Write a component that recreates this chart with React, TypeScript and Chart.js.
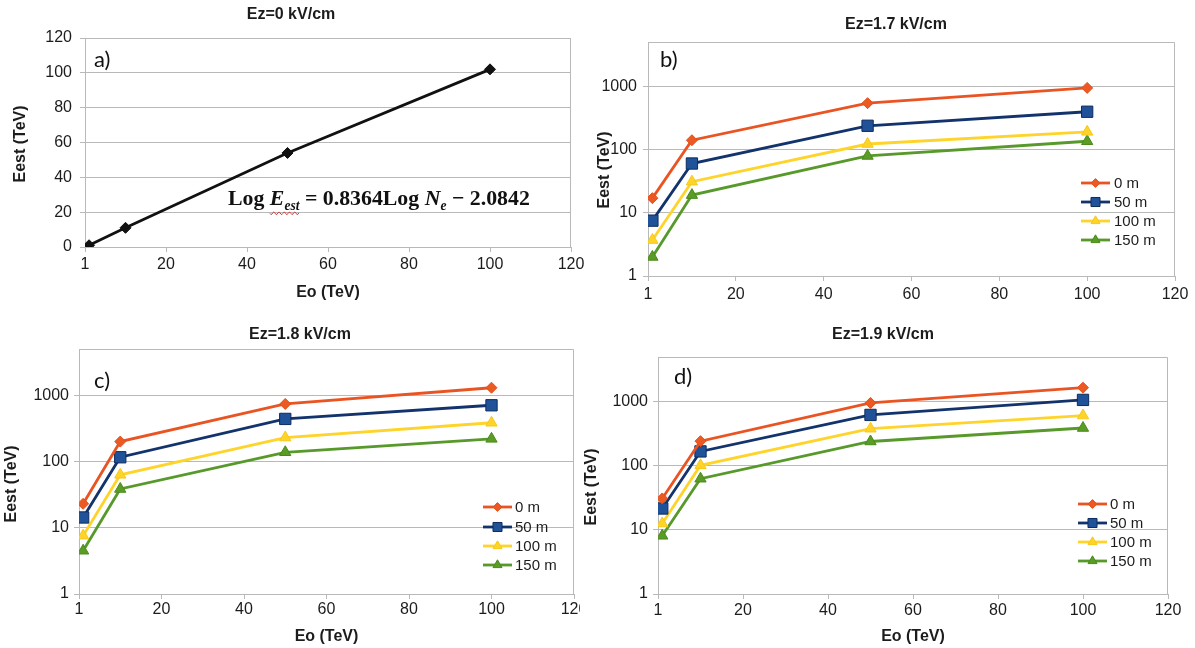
import React, { useEffect, useRef } from "react";
import { Chart, registerables } from "chart.js";

Chart.register(...registerables);

// ---------- data ----------
const EO_VALUES = [1, 10, 50, 100];
const X_TICKS = [0, 20, 40, 60, 80, 100, 120];
const X_TICK_LABELS = ["1", "20", "40", "60", "80", "100", "120"];
const Y_LIN_TICKS = [0, 20, 40, 60, 80, 100, 120];
const Y_LOG_TICKS = [1, 10, 100, 1000];
const SERIES_NAMES = ["0 m", "50 m", "100 m", "150 m"];

const A_EST = [1, 11, 54, 102];

const B_0M = [17, 140, 540, 940];
const B_50M = [7.5, 60, 237, 395];
const B_100M = [3.7, 31, 122, 190];
const B_150M = [2.0, 19, 79, 135];

const C_0M = [23, 200, 740, 1300];
const C_50M = [14.3, 116, 440, 707];
const C_100M = [7.6, 63, 230, 385];
const C_150M = [4.5, 38.5, 138, 220];

const D_0M = [31, 243, 960, 1660];
const D_50M = [21.6, 168, 624, 1070];
const D_100M = [12.6, 102, 380, 610];
const D_150M = [8.1, 63, 240, 390];

// ---------- styles ----------
const GRID = "#b9b9b9";
const TEXT = "#1c1c1c";
const SANS = '"Liberation Sans", Arial, sans-serif';
const SERIES_STYLES = [
  { color: "#ea5422", fill: "#ec5a24", stroke: "#e24f1a", point: "rectRot", radius: 5.5 },
  { color: "#12336b", fill: "#1f5299", stroke: "#0e2c5e", point: "rect", radius: 8 },
  { color: "#ffd42a", fill: "#ffd42a", stroke: "#f5c918", point: "triangle", radius: 6.5 },
  { color: "#57992a", fill: "#5a9c24", stroke: "#4a8a1c", point: "triangle", radius: 6.5 },
];

type PanelCfg = {
  key: string;
  cx: number; cy: number; cw: number; ch: number; clipW?: number;
  L: number; T: number; R: number; B: number;
  log: boolean;
  series: number[][];
  title: string; titleX: number; titleY: number;
  label: string; labelX: number; labelY: number;
  yTitleX: number; yTitleY: number; yLabelRight: number;
  xTickY: number; xTitleY: number | null;
  legend: { x1: number; x2: number; tx: number; ys: number[] } | null;
  equation: boolean;
};

const PANELS: PanelCfg[] = [
  {
    key: "a", cx: 0, cy: 0, cw: 600, ch: 310,
    L: 85, T: 38, R: 571, B: 247, log: false, series: [A_EST],
    title: "Ez=0 kV/cm", titleX: 291, titleY: 15,
    label: "a)", labelX: 94, labelY: 60,
    yTitleX: 21, yTitleY: 144, yLabelRight: 72, xTickY: 265, xTitleY: 293,
    legend: null, equation: true,
  },
  {
    key: "b", cx: 590, cy: 0, cw: 605, ch: 310,
    L: 648, T: 42, R: 1175, B: 276, log: true, series: [B_0M, B_50M, B_100M, B_150M],
    title: "Ez=1.7 kV/cm", titleX: 896, titleY: 25,
    label: "b)", labelX: 660, labelY: 60,
    yTitleX: 605, yTitleY: 170, yLabelRight: 637, xTickY: 295, xTitleY: null,
    legend: { x1: 1081, x2: 1110, tx: 1114, ys: [183, 202, 221, 240] }, equation: false,
  },
  {
    key: "c", cx: 0, cy: 315, cw: 600, ch: 333, clipW: 580,
    L: 79, T: 349, R: 574, B: 594, log: true, series: [C_0M, C_50M, C_100M, C_150M],
    title: "Ez=1.8 kV/cm", titleX: 300, titleY: 335,
    label: "c)", labelX: 94, labelY: 381,
    yTitleX: 12, yTitleY: 484, yLabelRight: 69, xTickY: 610, xTitleY: 637,
    legend: { x1: 483, x2: 512, tx: 515, ys: [507, 527, 546, 565] }, equation: false,
  },
  {
    key: "d", cx: 583, cy: 315, cw: 612, ch: 333,
    L: 658, T: 357, R: 1168, B: 594, log: true, series: [D_0M, D_50M, D_100M, D_150M],
    title: "Ez=1.9 kV/cm", titleX: 883, titleY: 335,
    label: "d)", labelX: 674, labelY: 377,
    yTitleX: 592, yTitleY: 487, yLabelRight: 648, xTickY: 611, xTitleY: 637,
    legend: { x1: 1078, x2: 1107, tx: 1110, ys: [504, 523, 542, 561] }, equation: false,
  },
];

function drawMarker(ctx: CanvasRenderingContext2D, style: string, x: number, y: number, r: number, fill: string, stroke: string) {
  ctx.beginPath();
  if (style === "rectRot") {
    ctx.moveTo(x, y - r); ctx.lineTo(x + r, y); ctx.lineTo(x, y + r); ctx.lineTo(x - r, y);
    ctx.closePath();
  } else if (style === "rect") {
    const s = r * Math.SQRT1_2;
    ctx.rect(x - s, y - s, 2 * s, 2 * s);
  } else {
    let rad = 0;
    ctx.moveTo(x + Math.sin(rad) * r, y - Math.cos(rad) * r);
    rad += (2 * Math.PI) / 3;
    ctx.lineTo(x + Math.sin(rad) * r, y - Math.cos(rad) * r);
    rad += (2 * Math.PI) / 3;
    ctx.lineTo(x + Math.sin(rad) * r, y - Math.cos(rad) * r);
    ctx.closePath();
  }
  ctx.fillStyle = fill; ctx.fill();
  ctx.strokeStyle = stroke; ctx.lineWidth = 1; ctx.stroke();
}

function drawEquation(ctx: CanvasRenderingContext2D, x: number, baseline: number, targetW: number) {
  const parts = [
    { t: "Log ", it: false, sub: false },
    { t: "E", it: true, sub: false },
    { t: "est", it: true, sub: true },
    { t: " = 0.8364Log ", it: false, sub: false },
    { t: "N", it: true, sub: false },
    { t: "e", it: true, sub: true },
    { t: " \u2212 2.0842", it: false, sub: false },
  ];
  const font = (size: number, it: boolean, sub: boolean) =>
    `${it ? "italic " : ""}bold ${sub ? size * 0.62 : size}px "Liberation Serif", "Times New Roman", serif`;
  let w = 0;
  for (const p of parts) { ctx.font = font(20, p.it, p.sub); w += ctx.measureText(p.t).width; }
  const size = (20 * targetW) / w;
  let cx = x;
  ctx.fillStyle = "#111";
  ctx.textBaseline = "alphabetic";
  ctx.textAlign = "left";
  let eStart = 0, estEnd = 0;
  for (const p of parts) {
    ctx.font = font(size, p.it, p.sub);
    if (p.t === "E") eStart = cx;
    ctx.fillText(p.t, cx, baseline + (p.sub ? size * 0.22 : 0));
    cx += ctx.measureText(p.t).width;
    if (p.t === "est") estEnd = cx;
  }
  // red wavy spell-check underline
  ctx.beginPath();
  ctx.strokeStyle = "#d43a3a";
  ctx.lineWidth = 1;
  const wy = baseline + size * 0.38;
  for (let px = eStart; px <= estEnd; px += 1) {
    const yy = wy + Math.sin((px - eStart) * 1.2) * 1.3;
    if (px === eStart) ctx.moveTo(px, yy); else ctx.lineTo(px, yy);
  }
  ctx.stroke();
}

function buildConfig(p: PanelCfg): any {
  const datasets = p.series.map((vals, i) => {
    const st = p.log ? SERIES_STYLES[i] : { color: "#111", fill: "#111", stroke: "#111", point: "rectRot", radius: 5.5 };
    return {
      label: p.log ? SERIES_NAMES[i] : "Eest",
      data: EO_VALUES.map((x, k) => ({ x, y: vals[k] })),
      borderColor: st.color,
      backgroundColor: st.fill,
      pointBackgroundColor: st.fill,
      pointBorderColor: st.stroke,
      pointBorderWidth: 1,
      pointStyle: st.point,
      pointRadius: st.radius,
      borderWidth: 2.8,
      tension: 0,
    };
  });

  const ox = p.cx, oy = p.cy;
  const yWidth = p.L - p.cx;
  const xHeight = p.cy + p.ch - p.B;

  const decor = {
    id: "decor_" + p.key,
    beforeDatasetsDraw(chart: any) {
      const { ctx, chartArea: ca } = chart;
      ctx.save();
      ctx.strokeStyle = GRID;
      ctx.lineWidth = 1;
      ctx.beginPath();
      const t = Math.round(ca.top) + 0.5;
      const r = Math.round(ca.right) - 0.5;
      ctx.moveTo(ca.left, t); ctx.lineTo(r, t); ctx.lineTo(r, ca.bottom);
      ctx.stroke();
      ctx.restore();
    },
    afterDraw(chart: any) {
      const ctx: CanvasRenderingContext2D = chart.ctx;
      ctx.save();
      // chart title
      ctx.font = `bold 16px ${SANS}`;
      ctx.fillStyle = TEXT;
      ctx.textAlign = "center";
      ctx.textBaseline = "middle";
      ctx.fillText(p.title, p.titleX - ox, p.titleY - oy);
      // y axis title
      ctx.save();
      ctx.translate(p.yTitleX - ox, p.yTitleY - oy);
      ctx.rotate(-Math.PI / 2);
      ctx.font = `bold 16px ${SANS}`;
      ctx.fillText("Eest (TeV)", 0, 0);
      ctx.restore();
      // panel label
      ctx.font = `22px Lato, "Open Sans", sans-serif`;
      ctx.textAlign = "left";
      ctx.textBaseline = "middle";
      ctx.fillStyle = "#111";
      ctx.fillText(p.label, p.labelX - ox, p.labelY - oy);
      // equation
      if (p.equation) drawEquation(ctx, 228 - ox, 205 - oy, 302);
      // legend
      if (p.legend) {
        const lg = p.legend;
        p.series.forEach((_, i) => {
          const st = SERIES_STYLES[i];
          const y = lg.ys[i] - oy;
          ctx.beginPath();
          ctx.strokeStyle = st.color;
          ctx.lineWidth = 2.8;
          ctx.moveTo(lg.x1 - ox, y);
          ctx.lineTo(lg.x2 - ox, y);
          ctx.stroke();
          drawMarker(ctx, st.point, (lg.x1 + lg.x2) / 2 - ox, y, st.radius * 0.8, st.fill, st.stroke);
          ctx.font = `15px ${SANS}`;
          ctx.fillStyle = TEXT;
          ctx.textAlign = "left";
          ctx.textBaseline = "middle";
          ctx.fillText(SERIES_NAMES[i], lg.tx - ox, y + 1);
        });
      }
      ctx.restore();
    },
  };

  const yScale: any = p.log
    ? {
        type: "logarithmic",
        min: 1,
        max: 5000,
        afterBuildTicks: (s: any) => { s.ticks = Y_LOG_TICKS.map((v) => ({ value: v })); },
      }
    : {
        type: "linear",
        min: 0,
        max: 120,
        afterBuildTicks: (s: any) => { s.ticks = Y_LIN_TICKS.map((v) => ({ value: v })); },
      };

  Object.assign(yScale, {
    position: "left",
    afterFit: (s: any) => { s.width = yWidth; },
    grid: { color: GRID, lineWidth: 1, drawTicks: true, tickLength: 5, tickColor: GRID },
    border: { display: true, color: GRID, width: 1 },
    ticks: {
      color: TEXT,
      font: { family: SANS, size: 16 },
      padding: p.L - 5 - p.yLabelRight,
      callback: (v: any) => String(v),
      autoSkip: false,
    },
    title: { display: false },
  });

  const xScale: any = {
    type: "linear",
    position: "bottom",
    min: 0,
    max: 120,
    afterBuildTicks: (s: any) => { s.ticks = X_TICKS.map((v) => ({ value: v })); },
    afterFit: (s: any) => { s.height = xHeight; },
    grid: { drawOnChartArea: false, drawTicks: true, tickLength: 5, color: GRID, tickColor: GRID },
    border: { display: true, color: GRID, width: 1 },
    ticks: {
      color: TEXT,
      font: { family: SANS, size: 16 },
      padding: Math.max(0, p.xTickY - 9.6 - p.B - 5),
      maxRotation: 0,
      minRotation: 0,
      autoSkip: false,
      callback: (v: any) => {
        const i = X_TICKS.indexOf(Number(v));
        return i >= 0 ? X_TICK_LABELS[i] : String(v);
      },
    },
    title: {
      display: p.xTitleY !== null,
      text: "Eo (TeV)",
      color: TEXT,
      font: { family: SANS, size: 16, weight: "bold", lineHeight: 1.2 },
      padding: { top: 0, bottom: p.xTitleY !== null ? Math.max(0, p.cy + p.ch - p.xTitleY - 9.6) : 0 },
    },
  };

  return {
    type: "line",
    data: { datasets },
    options: {
      responsive: false,
      maintainAspectRatio: false,
      animation: false,
      devicePixelRatio: 1,
      layout: { padding: { left: 0, top: p.T - p.cy, right: p.cx + p.cw - p.R, bottom: 0 } },
      plugins: { legend: { display: false }, title: { display: false }, tooltip: { enabled: false } },
      scales: { x: xScale, y: yScale },
    },
    plugins: [decor],
  };
}

function Panel({ p }: { p: PanelCfg }) {
  const ref = useRef<HTMLCanvasElement | null>(null);
  useEffect(() => {
    if (!ref.current) return;
    const chart = new Chart(ref.current, buildConfig(p));
    return () => chart.destroy();
  }, [p]);
  return (
    <div
      style={{
        position: "absolute",
        left: p.cx,
        top: p.cy,
        width: p.clipW ?? p.cw,
        height: p.ch,
        overflow: "hidden",
      }}
    >
      <canvas ref={ref} width={p.cw} height={p.ch} style={{ display: "block", width: p.cw, height: p.ch }} />
    </div>
  );
}

export default function App() {
  return (
    <div style={{ position: "absolute", left: 0, top: 0, width: 1195, height: 648, background: "#fff", overflow: "hidden" }}>
      {PANELS.map((p) => (
        <Panel key={p.key} p={p} />
      ))}
    </div>
  );
}
